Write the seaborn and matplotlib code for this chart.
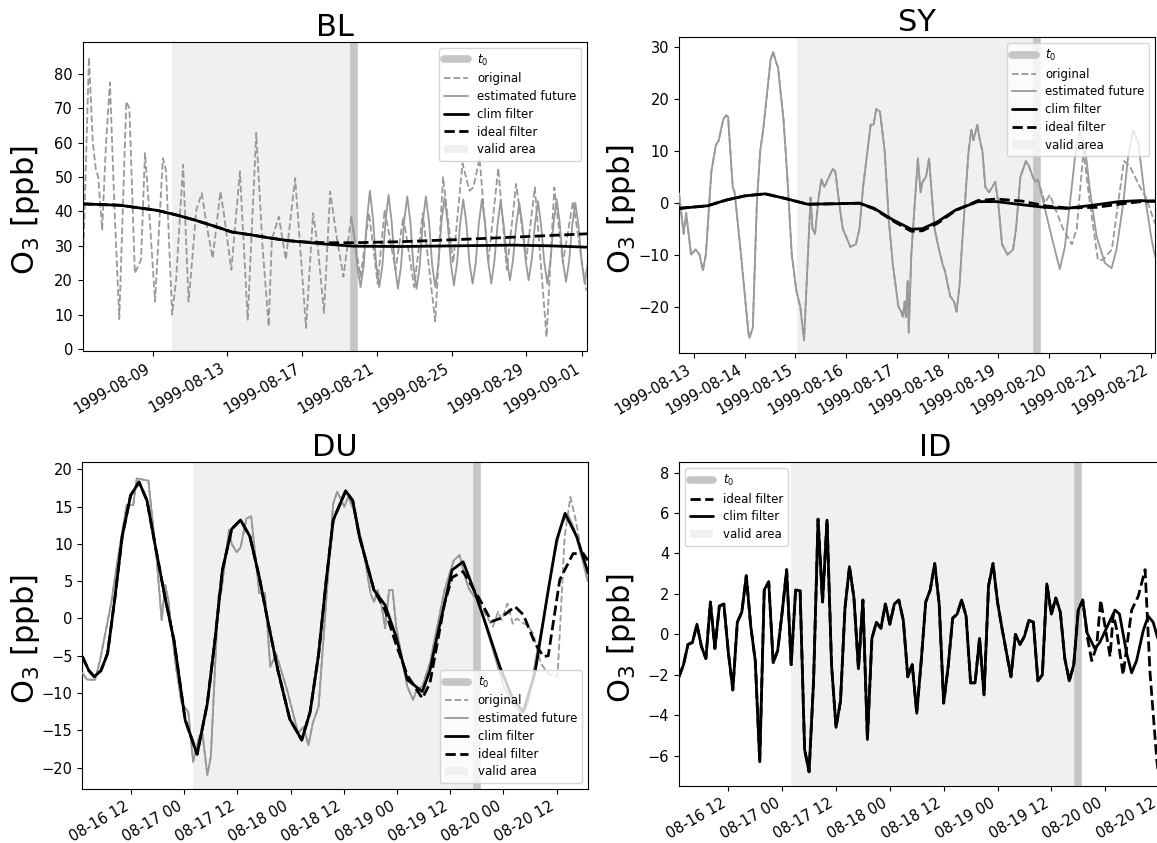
import numpy as np
import pandas as pd
import seaborn as sns
import matplotlib.pyplot as plt
import matplotlib.dates as mdates
from matplotlib.lines import Line2D
from matplotlib.patches import Patch
from matplotlib.ticker import MultipleLocator

# ---------------------------------------------------------------- data ----
# all times are hours after the panel's base time
T0 = "1999-08-19 18:00"

# BL
bl_base = "1999-08-05 06:00"
bl_valid_start = "1999-08-10 01:00"
bl_orig_h = [0, 8, 13, 17, 20, 25, 30, 35, 41, 47, 56, 60, 67, 75, 80, 84, 93, 103, 107, 115,
             120, 129, 136, 140, 146, 153, 160, 167, 177, 181, 191, 202, 212, 223, 231, 239, 243,
             252, 261, 273, 287, 296, 302, 310, 318, 326, 335, 345, 348, 357, 368, 379, 388, 402,
             412, 426, 437, 453, 463, 476, 488, 497, 502, 510, 521, 534, 545, 557, 570, 581, 596,
             606, 617, 630, 647]
bl_orig = [21, 84.8, 60, 52, 50, 34.7, 60, 77.5, 40, 8.7, 72, 70, 22, 26, 57, 45, 13.8, 55.5, 52, 10,
           20, 53.6, 13.8, 24, 40.5, 45.3, 35, 26.4, 45.8, 40, 23, 51.6, 8.5, 62.8, 30, 6.6, 31.8,
           38.5, 26, 49.7, 6.1, 39.5, 30, 10.5, 45.8, 33, 21, 38.5, 33.7, 21, 39.5, 19, 40.5, 23,
           38.5, 18, 39.5, 8, 50, 25, 54, 46, 47, 55.5, 25, 52.6, 23, 48, 26, 47, 3.5,
           47, 25, 43, 17]
bl_est_h = list(range(345, 650, 4))
bl_est = [38.5, 33, 24, 18, 24, 37,
          46, 38, 25, 18, 24, 37,
          44.8, 37, 24.5, 17.5, 24, 37,
          44.4, 37, 24, 17.5, 24, 37,
          44.4, 37, 24.5, 18, 24.5, 37,
          44, 36.5, 25, 18.5, 25, 36.5,
          43.5, 36.5, 25, 19, 25, 36.5,
          43.5, 36.5, 25.5, 19, 25.5, 36,
          43, 36, 26, 20, 26, 36,
          42.5, 36, 26, 20, 26, 36,
          43, 36, 25.5, 19, 25.5, 36.5,
          43.5, 36.5, 25.5, 19.5, 25.5, 36,
          42.5, 36, 25.5, 19, 25]
bl_filt_h = [0, 48, 96, 120, 144, 168, 192, 216, 240, 264, 288, 312, 348, 408, 480, 552, 600, 648]
bl_clim = [42.2, 41.8, 40.3, 39.0, 37.5, 35.8, 34.0, 33.2, 32.3, 31.5, 31.0, 30.5, 29.9, 29.8, 30.0, 30.2, 30.0, 29.6]
bl_ideal = [42.2, 41.8, 40.3, 39.0, 37.5, 35.8, 34.0, 33.2, 32.3, 31.5, 31.1, 30.9, 30.9, 31.2, 31.8, 32.5, 33.0, 33.5]

# SY
sy_base = "1999-08-12 17:00"
sy_valid_start = "1999-08-15 01:00"
sy_hist_h = [0, 2.2, 3.4, 5.7, 7.9, 9.7, 11.3, 12.7, 15.3, 17.4, 18.8, 20.9, 22.3, 23.2, 25.4,
             26.3, 29.3, 31.4, 32.8, 33.3, 34.9, 36.8, 38.4, 39.8, 43.3, 44.5, 45.9, 46.8, 49.4,
             51.2, 53.3, 55.5, 57.3, 59.1, 62.2, 63.1, 64.3, 66.0, 67.3, 68.7, 72.7, 73.9, 75.7,
             77.4, 81.0, 83.6, 85.3, 87.0, 90.6, 92.0, 93.2, 95.0, 97.2, 99.3, 101.1, 103.7, 105.1,
             105.8, 106.7, 107.2, 108.1, 108.6, 109.8, 112.9, 114.2, 115.1, 116.8, 118.2, 119.4,
             120.8, 122.9, 124.7, 125.6, 128.2, 130.0, 131.2, 132.6, 133.8, 136.9, 138.2, 139.2,
             141.0, 142.2, 143.4, 144.8, 146.6, 149.5, 150.9, 152.7, 155.3, 157.9, 159.3, 161.4,
             164.0, 165.4, 167.2, 168.4, 169.7]
sy_hist = [1.8, -6, -2, -10, -9, -10, -13, -10, 6, 11, 12, 16, 16.8, 16.5, 3,
           2, -10, -19, -25, -26, -24, 0, 10, 14, 27.5, 29, 27, 26, 16,
           5, -10, -17, -20, -26.5, 1, -5, -6, 1, 4.5, 3, 6.5, 6, 0,
           -5, -8.5, -8, -5, 3, 15, 15, 18, 17.5, 10, -4, -12, -20, -21,
           -22, -19, -22, -15, -25, -10, 8.5, 2, 4, 5, 8.5, 2,
           -5, -9, -12, -13, -18, -19, -21, -16, -8, 10, 14, 12,
           15, 12, 10, 3, 2, 4, 0, -8, -10, -9, -5, 5,
           8, 7, 5, 4, 4.4]
sy_est_h = [173.8, 176.9, 180, 182.4, 184.8, 187.9, 189.5, 191.9, 194.2, 197.4, 201.3, 204.5,
            206.8, 210, 212.3, 214.7, 217.1, 220.2, 223.4, 225]
sy_est = [-2.6, -7.8, -12.8, -8.5, -0.1, 11.4, 13.7, 10.8, 2.5, -6.5, -11.6, -12.6,
          -9, -0.1, 8.9, 14, 11.5, 1.2, -7.1, -10.3]
sy_orig_h = [173, 175.3, 177.7, 181.5, 185.7, 188, 191.2, 194.2, 198, 200.4, 204.6, 210.3,
             213.1, 217.9, 220.7, 225]
sy_orig = [0, 1.5, -1, -5, -8, -5, 10, 0, -11, -11, -9, 8, 7, 3, 1, -4]
sy_filt_h = [0, 13.5, 22.3, 31.0, 40.7, 50.3, 60.8, 74.8, 85.3, 92.3, 101.1, 109.8, 115.1, 122.1,
             130.8, 141.3, 150.1, 162.3, 172.8, 183.3, 197.3, 207.8, 218.3, 226]
sy_clim = [-1.1, -0.6, 0.5, 1.3, 1.7, 0.8, -0.3, -0.2, -0.1, -1.1, -3.3, -5.1, -5.0, -3.7,
           -1.4, 0.2, 0.2, -0.4, -0.9, -1.1, -0.4, 0.2, 0.4, 0.2]
sy_ideal = [-1.1, -0.6, 0.5, 1.3, 1.7, 0.8, -0.3, -0.2, -0.1, -1.2, -3.5, -5.5, -5.4, -4.0,
            -1.5, 0.4, 0.7, 0.3, -0.6, -1.0, -0.9, -0.3, 0.2, 0.4]

# DU
du_base = "1999-08-16 01:00"
du_valid_start = "1999-08-17 02:00"
du_hist_h = [0, 1.1, 2.9, 4.0, 6.5, 8.0, 10.0, 11.5, 12.3, 13.8, 14.9, 16.8, 17.9, 18.7, 19.4,
             21.0, 22.4, 23.9, 25.0, 26.4, 27.1, 28.2, 29.0, 30.7, 31.4, 33.1, 33.7, 34.8, 35.7,
             37.0, 38.1, 39.9, 41.2, 42.4, 43.7, 46.2, 48.7, 49.9, 51.0, 52.0, 53.3, 56.6, 57.5,
             59.1, 60.0, 61.6, 63.3, 65.0, 65.8, 66.6, 67.5, 68.3, 69.2, 70.0, 70.8, 73.3, 74.6,
             75.4, 76.7, 78.4, 81.7, 83.8, 85.1, 86.3, 87.2, 88.4, 89.0]
du_hist = [-7.3, -8.2, -8.2, -5.6, 2, 8, 15.2, 15.2, 18.8, 18.6, 18.5, 7.8, -0.2, 4.5, 2.5,
           -6, -11.4, -12.5, -19.2, -15.8, -15.4, -21, -18.5, 3, 3.8, 11.9, 10, 8.9, 9.5,
           13.4, 13.7, 3.4, 3.4, -6.5, -4.7, -9.6, -15.4, -14.5, -17, -14, -11.8, 15.4, 17,
           15, 16.3, 14, 9.6, 3.4, 2.2, 3.8, 1.8, -1.3, 3.8, 3.8, -1.1, -9.1, -10.9,
           -9.6, -9.1, -6, 3.8, 7.8, 8.5, 5.6, 4, 2.9, 3]
du_est_h = [91, 93, 95, 97, 99.1, 100.5, 102.1, 104, 106, 108, 109.5, 111, 114]
du_est = [-1, -5, -9, -11.5, -12.7, -11.5, -6, 0, 7, 12.5, 14, 12, 5]
du_orig_h = [90.5, 92.6, 93.8, 94.6, 95.9, 97.1, 98, 99.2, 100.5, 101.7, 103.4, 105.1, 107.2,
             108.8, 110.1, 111.3, 112.4, 114]
du_orig = [1, -1.1, 0.9, -0.2, 2.0, -0.7, 0, -0.5, -1, -2, -6, -7.4, -7.8, 11, 16.3, 13.2, 9.6, 5]
du_clim_h = [0, 1.5, 2.7, 4.2, 5.7, 7.3, 9.0, 10.9, 12.8, 14.6, 16.5, 18.6, 20.7, 23.2, 25.9,
             28.2, 30.0, 31.6, 33.7, 35.7, 37.8, 39.9, 42.0, 44.1, 46.8, 49.5, 51.4, 53.3, 55.0,
             56.6, 59.4, 61.0, 62.5, 65.8, 68.3, 70.8, 73.3, 76.7, 78.4, 80.0, 83.4, 85.9, 88.6,
             91.2, 94.2, 97.2, 99.5, 102.1, 105.1, 107.0, 108.9, 111.5, 114.1]
du_clim = [-5.1, -7.0, -7.8, -7.0, -4.7, 2.5, 11, 16.5, 18.3, 15.8, 9.6, 3.0, -3, -13.6, -18.2,
           -11.4, -2.5, 6.5, 12.0, 13.2, 11.0, 5.6, -0.8, -6.9, -13.5, -16.3, -12.5, -4.8, 5.0,
           13.2, 17.1, 15.8, 11, 3.8, 1.8, -2.5, -8.2, -9.8, -7.0, -2.5, 6.5, 7.6, 3.4,
           -1.1, -6.5, -10.9, -12.5, -7.3, 3.8, 10.5, 14.1, 11, 6.1]
du_ideal_h = [68.3, 70.8, 73.3, 76.7, 78.4, 81.7, 83.4, 85.9, 89.7, 92.3, 94.2, 97.6, 99.5, 102.1,
              104, 105.1, 107.7, 110.7, 113, 114.1]
du_ideal = [1.1, -3.5, -7.6, -10.7, -8.7, 2, 5.5, 6.3, 2.5, -0.4, 0, 1.6, 0.5, -3.3,
            -5.1, -5, 5.2, 8.7, 8.7, 7.7]

# ID (hourly up to t0, then irregular)
id_base = "1999-08-16 01:00"
id_valid_start = "1999-08-17 02:00"
id_hist = [-2.1, -1.5, -0.5, -0.4, 0.5, -0.6, -1.2, 1.6, -0.7, 1.4,
           1.5, -0.9, -2.75, 0.6, 1.1, 2.9, 0.4, -1.3, -6.3, 2.2,
           2.6, -1.4, -0.8, 1.1, 3.2, -1.5, 2.2, 2.15, -5.7, -6.8,
           -2.3, 5.7, 1.6, 5.65, -1.5, -4.6, -3.3, 1.3, 3.35, 1.8,
           -1.7, 1.7, -5.2, -0.2, 0.6, 0.3, 1.5, 0.5, 1.5, 1.7,
           0.7, -2.1, -1.5, -3.9, -1.3, 1.6, 2.2, 3.5, 1.5, -3.4,
           -1.6, 0.8, 1.0, 1.7, 0.9, -2.4, -2.4, -0.2, -3.0, 2.4,
           3.5, 1.6, 0.3, -0.9, -2.1, 0.0, -0.5, -0.1, 0.7, 0.6,
           -2.3, -2.0, 2.5, 1.0, 1.8, 1.1, -1.2, -2.3, -1.5, 1.2, 1.7]
id_clim_h = [91, 92.7, 93.8, 95.7, 97.2, 98.2, 99.8, 100.9, 102, 103.5, 104.6, 105.7, 106.6,
             108, 110, 112, 114]
id_clim = [0.05, -0.7, -0.4, 0.5, 1.2, 1.0, -0.95, -1.9, -1.3, 0.2, 0.9, 0.6, -0.1, -1, 0, 1, 0.5]
id_ideal_h = [91, 92, 93.1, 94, 95, 96.1, 96.8, 97.6, 98.3, 99.0, 100.0, 100.9, 102.4, 103.9,
              105.0, 106.5, 108, 110]
id_ideal = [-0.1, -1.3, -0.6, 1.7, 0.35, -1.1, 1.0, 0.2, -0.95, -2.0, -0.3, 1.2, 1.9, 3.2,
            -1.9, -6.2, -9, -10]

# -------------------------------------------------------------- style ----
GRAY = "#999999"
T0_COLOR = "#c6c6c6"
VALID_COLOR = "#f0f0f0"

sns.set_style("ticks", {"axes.edgecolor": "black", "text.color": "black",
                        "xtick.color": "black", "ytick.color": "black",
                        "axes.labelcolor": "black"})
plt.rcParams["font.family"] = ["DejaVu Sans"]
plt.rcParams["xtick.labelsize"] = 10.5
plt.rcParams["ytick.labelsize"] = 10.5

W, H = 1157, 843
fig = plt.figure(figsize=(W / 100, H / 100), dpi=100)


def rect(left, top, right, bottom):
    return [left / W, 1 - bottom / H, (right - left) / W, (bottom - top) / H]


def times(base, hours):
    return pd.Timestamp(base) + pd.to_timedelta(np.asarray(hours, dtype=float), unit="h")


def line(ax, base, hours, values, **kw):
    df = pd.DataFrame({"time": times(base, hours), "o3": values})
    sns.lineplot(data=df, x="time", y="o3", ax=ax, estimator=None, **kw)


def finish(ax, title, base, span_h, valid_start, ylim, width_px, height_px, locator, fmt,
           ystep, handles, legend_loc):
    ax.axvspan(pd.Timestamp(valid_start), pd.Timestamp(T0), color=VALID_COLOR, lw=0, zorder=0)
    ax.axvline(pd.Timestamp(T0), color=T0_COLOR, lw=5.5, zorder=1)
    ax.set_xlim(pd.Timestamp(base), pd.Timestamp(base) + pd.Timedelta(hours=span_h))
    ax.set_ylim(*ylim)
    ax.yaxis.set_major_locator(MultipleLocator(ystep))
    ax.xaxis.set_major_locator(locator)
    ax.xaxis.set_major_formatter(mdates.DateFormatter(fmt))
    plt.setp(ax.get_xticklabels(), rotation=30, ha="right")
    ax.set_xlabel("")
    ax.set_ylabel("O$_3$ [ppb]", fontsize=22)
    ax.yaxis.set_label_coords(-40.5 / width_px, 0.5 - 14 / height_px)
    ax.set_title(title, fontsize=22, pad=4)
    h, l = zip(*handles)
    ax.legend(h, l, loc=legend_loc, fontsize=8.5, labelspacing=0.4)


H_T0 = (Line2D([0], [0], color=T0_COLOR, lw=5.5), "$t_0$")
H_ORIG = (Line2D([0], [0], color=GRAY, lw=1.3, ls="--"), "original")
H_EST = (Line2D([0], [0], color=GRAY, lw=1.3), "estimated future")
H_CLIM = (Line2D([0], [0], color="black", lw=2), "clim filter")
H_IDEAL = (Line2D([0], [0], color="black", lw=2, ls="--"), "ideal filter")
H_VALID = (Patch(facecolor=VALID_COLOR, edgecolor="none"), "valid area")
FULL = [H_T0, H_ORIG, H_EST, H_CLIM, H_IDEAL, H_VALID]

days4 = mdates.DayLocator(bymonthday=[1, 5, 9, 13, 17, 21, 25, 29])

# ----------------------------------------------------------------- BL ----
ax = fig.add_axes(rect(82.7, 42, 587, 351))
line(ax, bl_base, bl_orig_h, bl_orig, color=GRAY, lw=1.3, ls="--", zorder=2)
line(ax, bl_base, bl_est_h, bl_est, color=GRAY, lw=1.3, zorder=3)
line(ax, bl_base, bl_filt_h, bl_clim, color="black", lw=2, zorder=4)
line(ax, bl_base, bl_filt_h, bl_ideal, color="black", lw=2, ls="--", zorder=5)
finish(ax, "BL", bl_base, 27 * 24, bl_valid_start, (-0.6, 89.3), 504.3, 309, days4,
       "%Y-%m-%d", 10, FULL, "upper right")

# ----------------------------------------------------------------- SY ----
ax = fig.add_axes(rect(679, 37.3, 1155, 352.7))
line(ax, sy_base, sy_hist_h + sy_orig_h, sy_hist + sy_orig, color=GRAY, lw=1.3, ls="--", zorder=2)
line(ax, sy_base, sy_hist_h + sy_est_h, sy_hist + sy_est, color=GRAY, lw=1.3, zorder=3)
line(ax, sy_base, sy_filt_h, sy_clim, color="black", lw=2, zorder=4)
line(ax, sy_base, sy_filt_h, sy_ideal, color="black", lw=2, ls="--", zorder=5)
finish(ax, "SY", sy_base, 225, sy_valid_start, (-28.85, 31.8), 476, 315.4, mdates.DayLocator(),
       "%Y-%m-%d", 10, FULL, "upper right")

# ----------------------------------------------------------------- DU ----
ax = fig.add_axes(rect(82.3, 462.3, 587.7, 789))
line(ax, du_base, du_hist_h + du_orig_h, du_hist + du_orig, color=GRAY, lw=1.3, ls="--", zorder=2)
line(ax, du_base, du_hist_h + du_est_h, du_hist + du_est, color=GRAY, lw=1.3, zorder=3)
line(ax, du_base, du_clim_h, du_clim, color="black", lw=2, zorder=4)
du_split = [h for h in du_clim_h if h < 68.3]
line(ax, du_base, du_split + du_ideal_h, du_clim[:len(du_split)] + du_ideal,
     color="black", lw=2, ls="--", zorder=5)
finish(ax, "DU", du_base, 114, du_valid_start, (-22.86, 20.94), 505.4, 326.7,
       mdates.HourLocator(byhour=[0, 12]), "%m-%d %H", 5, FULL, "lower right")

# ----------------------------------------------------------------- ID ----
ax = fig.add_axes(rect(679, 462.3, 1190.4, 786))
id_hist_h = list(range(len(id_hist)))
line(ax, id_base, id_hist_h + id_ideal_h, id_hist + id_ideal, color="black", lw=2, ls="--", zorder=4)
line(ax, id_base, id_hist_h + id_clim_h, id_hist + id_clim, color="black", lw=2, zorder=5)
finish(ax, "ID", id_base, 114, id_valid_start, (-7.5, 8.51), 511.4, 323.7,
       mdates.HourLocator(byhour=[0, 12]), "%m-%d %H", 2,
       [H_T0, H_IDEAL, H_CLIM, H_VALID], "upper left")

fig.savefig("out.png", dpi=100)
